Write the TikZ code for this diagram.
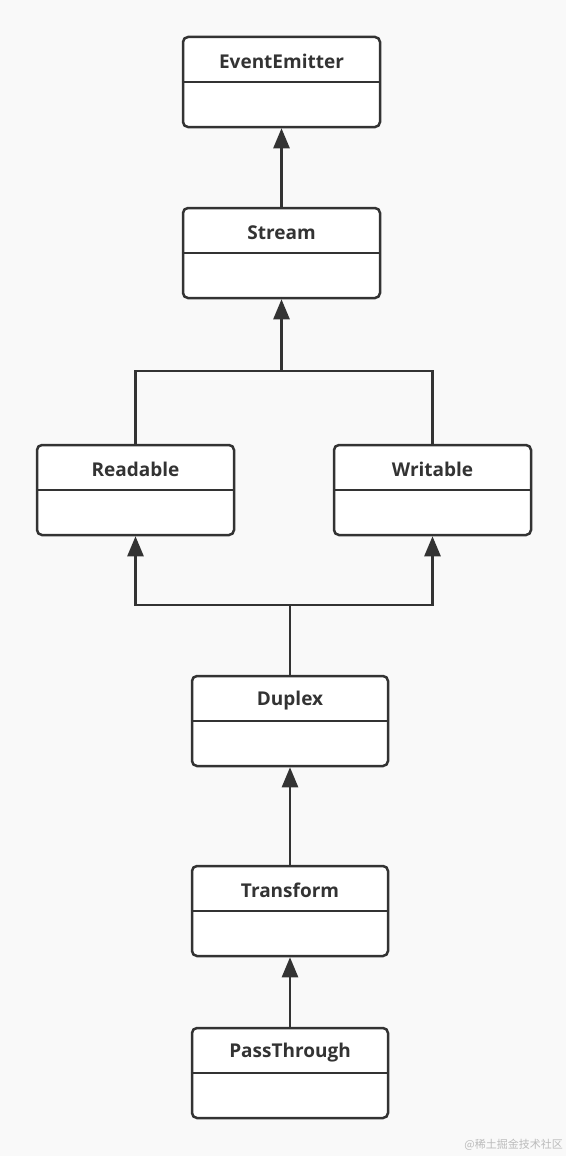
\documentclass[tikz,border=0pt]{standalone}
\usepackage{fontspec}
\setmainfont{Open Sans}
\newfontfamily\cjkfont{Noto Sans CJK SC}
\usetikzlibrary{arrows.meta}
\definecolor{ink}{HTML}{333333}
\definecolor{bgc}{HTML}{F9F9F9}
\definecolor{wm}{HTML}{BBBBBB}
\tikzset{
  classbox/.style={draw=ink, fill=white, line width=2.5pt, rounded corners=5pt,
    minimum width=197pt, minimum height=90pt, inner sep=0pt},
  classname/.style={font=\bfseries\fontsize{19}{22}\selectfont, text=ink, inner sep=0pt},
  divider/.style={draw=ink, line width=2.5pt},
  link/.style={draw=ink, line width=2.5pt},
  inherit/.style={link, -{Triangle[width=16pt,length=20pt]}},
}
\newcommand{\umlclassbox}[5]{%
  \node[classbox, minimum width=#5] (#1) at (#2,#3) {};
  \node[classname] (#1-t) at ([yshift=-26pt]#1.north) {#4};
  \draw[divider] ([yshift=-46pt]#1.north west) -- ([yshift=-46pt]#1.north east);
}
\begin{document}
\begin{tikzpicture}[x=1pt,y=-1pt]
  \fill[bgc] (0,0) rectangle (566,1156);
  \useasboundingbox (0,0) rectangle (566,1156);
  \umlclassbox{ee}{281.5}{82}{EventEmitter}{197pt}
  \umlclassbox{stream}{281.5}{253}{Stream}{197pt}
  \umlclassbox{readable}{135.5}{490}{Readable}{197pt}
  \umlclassbox{writable}{432.5}{490}{Writable}{197pt}
  \umlclassbox{duplex}{290}{721}{Duplex}{196pt}
  \umlclassbox{transform}{290}{911}{Transform}{196pt}
  \umlclassbox{pass}{290}{1073}{PassThrough}{196pt}
  \coordinate (j1) at (281.5,371);
  \coordinate (j2) at (290,605);
  \draw[inherit] (stream.north) -- (ee.south);
  \draw[link] (readable.north) |- (j1) -| (writable.north);
  \draw[inherit] (j1) -- (stream.south);
  \draw[link] (duplex.north) -- (j2);
  \draw[inherit] (j2) -| (readable.south);
  \draw[inherit] (j2) -| (writable.south);
  \draw[inherit] (transform.north) -- (duplex.south);
  \draw[inherit] (pass.north) -- (transform.south);
  \node[text=wm, font=\cjkfont\fontsize{11}{13}\selectfont, anchor=east, inner sep=0pt] (wmark) at (563,1145) {@稀土掘金技术社区};
\end{tikzpicture}
\end{document}
